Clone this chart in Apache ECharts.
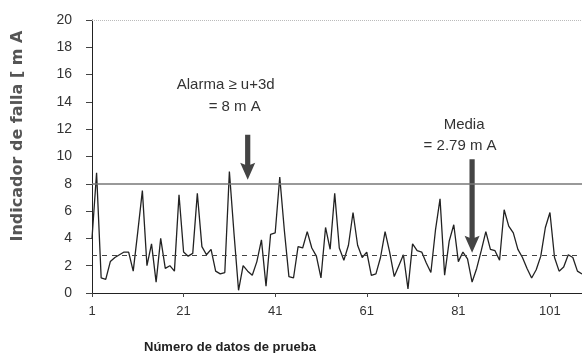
<!DOCTYPE html>
<html><head><meta charset="utf-8">
<script src="https://cdn.jsdelivr.net/npm/echarts@6/dist/echarts.min.js"></script>
<style>html,body{margin:0;padding:0;background:#fff}#c{width:582px;height:353px}</style>
</head><body><div id="c"></div>
<script>
const categories = Array.from({length:108}, (_, i) => String(i + 1));
const faultValues = [
 4.0, 8.8, 1.1, 1.0, 2.3, 2.6, 2.8, 3.0, 3.0, 1.6,
 4.5, 7.5, 2.0, 3.6, 0.8, 4.0, 1.8, 2.0, 1.6, 7.2,
 3.0, 2.7, 2.9, 7.3, 3.4, 2.8, 3.2, 1.6, 1.4, 1.5,
 8.9, 4.4, 0.2, 2.0, 1.6, 1.3, 2.3, 3.9, 0.5, 4.3,
 4.4, 8.5, 4.6, 1.2, 1.1, 3.4, 3.3, 4.5, 3.3, 2.7,
 1.1, 4.8, 3.2, 7.3, 3.3, 2.4, 3.5, 5.9, 3.5, 2.6,
 3.0, 1.3, 1.4, 2.6, 4.5, 3.0, 1.2, 2.0, 2.8, 0.3,
 3.6, 3.1, 3.0, 2.2, 1.5, 4.6, 6.9, 1.3, 3.8, 5.0,
 2.3, 3.0, 2.5, 0.8, 1.8, 3.1, 4.5, 3.2, 3.1, 2.4,
 6.1, 4.9, 4.4, 3.2, 2.6, 1.8, 1.1, 1.7, 2.7, 4.8,
 5.9, 2.6, 1.6, 1.9, 2.8, 2.6, 1.6, 1.4
];
const alarmValue = 8;
const meanValue = 2.79;
const yTicks = [0,2,4,6,8,10,12,14,16,18,20];

const chart = echarts.init(document.getElementById('c'), null, {renderer:'canvas'});
const font = 'Liberation Sans, Arial, sans-serif';
chart.setOption({
  animation: false,
  backgroundColor: '#fff',
  grid: {left: 92, right: 0, top: 20, bottom: 60},
  xAxis: {
    type: 'category', data: categories, boundaryGap: false,
    axisLine: {lineStyle: {color: '#222', width: 1}},
    axisTick: {interval: 19, length: 4, inside: false, lineStyle: {color: '#444'}},
    axisLabel: {interval: 19, color: '#333', fontSize: 13, fontFamily: font, margin: 12},
    splitLine: {show: false}
  },
  yAxis: {
    type: 'value', min: yTicks[0], max: yTicks[yTicks.length-1], interval: 2,
    axisLine: {show: true, lineStyle: {color: '#222', width: 1}},
    axisTick: {show: true, length: 6, lineStyle: {color: '#444'}},
    axisLabel: {color: '#333', fontSize: 14, fontFamily: font, margin: 20},
    splitLine: {show: false}
  },
  series: [{
    type: 'line', data: faultValues, symbol: 'none',
    lineStyle: {color: '#222', width: 1.3},
    markLine: {
      silent: true, symbol: 'none', label: {show: false},
      data: [
        {yAxis: alarmValue, lineStyle: {color: '#777', width: 1.5, type: 'solid'}},
        {yAxis: meanValue, lineStyle: {color: '#444', width: 1, type: [5, 5]}},
        {yAxis: 20, lineStyle: {color: '#bbb', width: 1, type: 'dotted'}}
      ]
    }
  }]
});

function px(idx, v) { return chart.convertToPixel({xAxisIndex:0, yAxisIndex:0}, [idx, v]); }
function arrow(idx, vTop, vTip) {
  const a = px(idx, vTop), b = px(idx, vTip);
  const x = a[0], y0 = a[1], y1 = b[1];
  const sw = 2.6, hw = 7.5, hh = 15;
  return {type: 'polygon', shape: {points: [
    [x - sw, y0], [x + sw, y0], [x + sw, y1 - hh], [x + hw, y1 - hh - 2],
    [x, y1], [x - hw, y1 - hh - 2], [x - sw, y1 - hh]
  ]}, style: {fill: '#444'}};
}
const a1 = px(34, 11.6);
const a2 = px(83, 9.8);
chart.setOption({graphic: [
  {type: 'text', x: 18, y: 136, rotation: Math.PI/2,
   style: {text: 'Indicador de falla [ m A', font: 'bold 16px DejaVu Sans, sans-serif', fill: '#555', align: 'center', verticalAlign: 'middle'}},
  {type: 'text', x: 230, y: 347,
   style: {text: 'Número de datos de prueba', font: 'bold 13px ' + font, fill: '#222', align: 'center', verticalAlign: 'middle'}},
  arrow(34, 11.6, 8.3),
  arrow(83, 9.8, 2.95),
  {type: 'text', x: a1[0] - 22, y: 85, style: {text: 'Alarma ≥ u+3d', font: '15px ' + font, fill: '#333', align: 'center', verticalAlign: 'middle'}},
  {type: 'text', x: a1[0] - 13, y: 107, style: {text: '= 8 m A', font: '15px ' + font, fill: '#333', align: 'center', verticalAlign: 'middle'}},
  {type: 'text', x: a2[0] - 8, y: 125, style: {text: 'Media', font: '15px ' + font, fill: '#333', align: 'center', verticalAlign: 'middle'}},
  {type: 'text', x: a2[0] - 12, y: 146, style: {text: '= 2.79 m A', font: '15px ' + font, fill: '#333', align: 'center', verticalAlign: 'middle'}}
]});
</script></body></html>
